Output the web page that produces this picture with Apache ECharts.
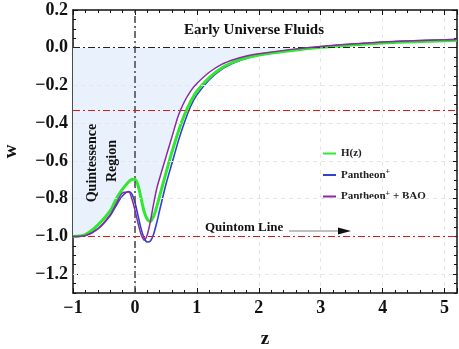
<!DOCTYPE html>
<html>
<head>
<meta charset="utf-8">
<script src="https://cdn.jsdelivr.net/npm/echarts@6/dist/echarts.min.js"></script>
<style>
  html, body { margin: 0; padding: 0; background: #fff; }
  #chart { width: 459px; height: 349px; }
</style>
</head>
<body>
<div id="chart"></div>
<script>
// redshift grid and w(z) for each data set
const zValues = [-1, -0.8, -0.6, -0.4, -0.3, -0.2, -0.1, -0.05, 0, 0.05, 0.1, 0.15, 0.2, 0.25, 0.3, 0.35, 0.4,
  0.5, 0.6, 0.7, 0.8, 0.9, 1.0, 1.2, 1.4, 1.6, 1.8, 2.0, 2.5, 3.0, 3.5, 4.0, 4.5, 5.0, 5.2]
const hzW = [-1.0, -0.99, -0.94, -0.865, -0.80, -0.75, -0.71, -0.698, -0.697, -0.73, -0.80, -0.87, -0.91, -0.92, -0.895,
  -0.845, -0.785, -0.665, -0.55, -0.445, -0.355, -0.285, -0.23, -0.158, -0.107, -0.075, -0.053, -0.038,
  -0.016, 0.002, 0.015, 0.025, 0.032, 0.037, 0.039]
const pantheonW = [-1.0, -0.995, -0.96, -0.89, -0.835, -0.785, -0.762, -0.775, -0.82, -0.89, -0.96, -1.01, -1.03, -1.025,
  -0.99, -0.93, -0.86, -0.725, -0.61, -0.495, -0.395, -0.31, -0.25, -0.17, -0.115, -0.08, -0.055, -0.04,
  -0.014, 0.004, 0.018, 0.029, 0.037, 0.042, 0.044]
const pantheonBaoW = [-1.0, -0.995, -0.96, -0.885, -0.825, -0.77, -0.765, -0.80, -0.86, -0.93, -0.99, -1.02, -0.99, -0.92,
  -0.83, -0.75, -0.69, -0.58, -0.47, -0.36, -0.285, -0.23, -0.19, -0.13, -0.088, -0.062, -0.044, -0.032,
  -0.01, 0.007, 0.02, 0.03, 0.037, 0.042, 0.044]

const yTicks = [-1.2, -1.0, -0.8, -0.6, -0.4, -0.2, 0.0, 0.2]
const yGridValues = [-1.2, -0.8, -0.6, -0.4, -0.2]
const quintomLine = -1
const accelLine = -1 / 3

const serif = '"Liberation Serif", "DejaVu Serif", serif'

const pairs = arr => zValues.map((z, i) => [z, arr[i]])
// shade between w = 0 and the upper curve
const shade = zValues.map((z, i) => [z, Math.min(0, Math.max(hzW[i], pantheonW[i], pantheonBaoW[i]))])

const fmtY = v => (v < 0 ? '\u2212' : '') + Math.abs(v).toFixed(1)
const fmtX = v => (v < 0 ? '\u2212' + (-v) : '' + v)

const tickFont = { fontFamily: serif, fontWeight: 'bold', fontSize: 18, color: '#111' }
const frameLine = { show: true, onZero: false, lineStyle: { color: '#111', width: 1.5 } }
const noLine = { show: false, onZero: false }
const dashDot = [7, 3, 2, 3]

// helper series that only carries reference lines
const refLines = (name, data, style) => ({
  name, type: 'line', data: [], symbol: 'none', z: 2,
  markLine: { silent: true, symbol: 'none', label: { show: false }, lineStyle: style, data }
})

const chart = echarts.init(document.getElementById('chart'))

const option = {
  animation: false,
  backgroundColor: '#fff',
  grid: { left: 73, right: 2, top: 10, bottom: 56, outerBoundsMode: 'none', containLabel: false },
  legend: {
    orient: 'vertical',
    left: 318,
    top: 143,
    itemWidth: 13,
    itemHeight: 2,
    itemGap: 9,
    icon: 'rect',
    data: ['H(z)', 'Pantheon+', 'Pantheon+ + BAO'],
    formatter: name => name === 'H(z)' ? '{b|H(z)}' : name.replace('Pantheon+', '{b|Pantheon}{sup|+}').replace(' + BAO', '{b| + BAO}'),
    textStyle: {
      fontFamily: serif, fontWeight: 'bold', fontSize: 11, color: '#222',
      rich: {
        b: { fontFamily: serif, fontWeight: 'bold', fontSize: 11, color: '#222' },
        sup: { fontFamily: serif, fontWeight: 'bold', fontSize: 8, color: '#222', padding: [0, 0, 6, 0] }
      }
    }
  },
  xAxis: [
    {
      type: 'value', min: -1, max: 5.2, interval: 1, position: 'bottom',
      name: 'z', nameLocation: 'middle', nameGap: 37,
      nameTextStyle: { fontFamily: serif, fontWeight: 'bold', fontSize: 19, color: '#111' },
      axisLine: frameLine,
      axisTick: { inside: true, length: 5, lineStyle: { color: '#111' } },
      minorTick: { show: true, splitNumber: 5, length: 3, lineStyle: { color: '#111' } },
      axisLabel: Object.assign({ margin: 6, formatter: fmtX, showMaxLabel: false }, tickFont),
      splitLine: { show: true, lineStyle: { color: '#e6e6e6', type: [4, 4] } }
    },
    {
      type: 'value', min: -1, max: 5.2, interval: 1, position: 'top',
      axisLine: frameLine,
      axisTick: { inside: true, length: 5, lineStyle: { color: '#111' } },
      minorTick: { show: true, splitNumber: 5, length: 3, lineStyle: { color: '#111' } },
      axisLabel: { show: false },
      splitLine: { show: false }
    }
  ],
  yAxis: [
    {
      type: 'value', min: -1.3, max: 0.2, position: 'left',
      name: 'w', nameLocation: 'middle', nameGap: 52, nameRotate: 90,
      nameTextStyle: { fontFamily: serif, fontWeight: 'bold', fontSize: 19, color: '#111' },
      axisLine: frameLine,
      axisTick: { inside: true, length: 5, customValues: yTicks, lineStyle: { color: '#111' } },
      axisLabel: Object.assign({ margin: 5, formatter: fmtY, customValues: yTicks }, tickFont),
      splitLine: { show: false }
    },
    {
      type: 'value', min: -1.3, max: 0.2, interval: 0.05, position: 'left',
      axisLine: noLine,
      axisTick: { inside: true, length: 3, lineStyle: { color: '#111' } },
      axisLabel: { show: false },
      splitLine: { show: false }
    },
    {
      type: 'value', min: -1.3, max: 0.2, position: 'right',
      axisLine: frameLine,
      axisTick: { inside: true, length: 5, customValues: yTicks, lineStyle: { color: '#111' } },
      axisLabel: { show: false, customValues: yTicks },
      splitLine: { show: false }
    },
    {
      type: 'value', min: -1.3, max: 0.2, interval: 0.05, position: 'right',
      axisLine: noLine,
      axisTick: { inside: true, length: 3, lineStyle: { color: '#111' } },
      axisLabel: { show: false },
      splitLine: { show: false }
    }
  ],
  series: [
    {
      name: 'shade', type: 'line', data: shade, smooth: 0.3, symbol: 'none', z: 1,
      lineStyle: { width: 0 },
      areaStyle: { color: '#e9f1fd', opacity: 1 }
    },
    refLines('grid', yGridValues.map(v => ({ yAxis: v })), { color: '#e6e6e6', type: [4, 4], width: 1 }),
    refLines('zero', [{ yAxis: 0 }], { color: '#222', type: dashDot, width: 1.2 }),
    refLines('z0', [{ xAxis: 0 }], { color: '#444', type: dashDot, width: 1.5 }),
    refLines('red', [{ yAxis: quintomLine }, { yAxis: accelLine }], { color: '#e01818', type: dashDot, width: 1.2 }),
    {
      name: 'H(z)', type: 'line', data: pairs(hzW), smooth: 0.3, symbol: 'none', z: 4,
      color: '#2fe82f', lineStyle: { width: 3, color: '#2fe82f' }
    },
    {
      name: 'Pantheon+', type: 'line', data: pairs(pantheonW), smooth: 0.3, symbol: 'none', z: 3,
      color: '#3040d0', lineStyle: { width: 1.6, color: '#3040d0' }
    },
    {
      name: 'Pantheon+ + BAO', type: 'line', data: pairs(pantheonBaoW), smooth: 0.3, symbol: 'none', z: 5,
      color: '#8a2aa0', lineStyle: { width: 1.5, color: '#8a2aa0' }
    }
  ],
  graphic: [
    {
      type: 'text', x: 254, y: 30, z: 10,
      style: { text: 'Early Universe Fluids', font: 'bold 15px ' + serif, fill: '#111', align: 'center', verticalAlign: 'middle' }
    },
    {
      type: 'text', x: 92, y: 163, rotation: Math.PI / 2, z: 10,
      style: { text: 'Quintessence', font: 'bold 14px ' + serif, fill: '#111', align: 'center', verticalAlign: 'middle' }
    },
    {
      type: 'text', x: 112, y: 161, rotation: Math.PI / 2, z: 10,
      style: { text: 'Region', font: 'bold 14px ' + serif, fill: '#111', align: 'center', verticalAlign: 'middle' }
    },
    {
      type: 'text', x: 205, y: 228, z: 10,
      style: { text: 'Quintom Line', font: 'bold 13px ' + serif, fill: '#111', align: 'left', verticalAlign: 'middle' }
    },
    {
      type: 'line', z: 10,
      shape: { x1: 289, y1: 231, x2: 341, y2: 231 },
      style: { stroke: '#aaa', lineWidth: 1.5 }
    },
    {
      type: 'polygon', z: 10,
      shape: { points: [[338, 227.5], [351, 231], [338, 234.5]] },
      style: { fill: '#111' }
    }
  ]
}

chart.setOption(option)
</script>
</body>
</html>
